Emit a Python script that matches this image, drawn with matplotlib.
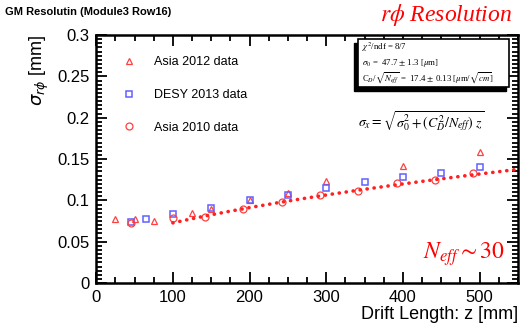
import numpy as np
import matplotlib
matplotlib.use('Agg')
import matplotlib.pyplot as plt
from matplotlib.ticker import MultipleLocator
from matplotlib.patches import Rectangle

# data (z in mm, sigma in mm)
asia2012_z = [25, 50, 75, 125, 150, 200, 250, 300, 400, 500]
asia2012_s = [0.077, 0.077, 0.075, 0.085, 0.090, 0.100, 0.109, 0.123, 0.1415, 0.159]

desy2013_z = [45, 65, 100, 150, 200, 250, 300, 350, 400, 450, 500]
desy2013_s = [0.074, 0.077, 0.084, 0.091, 0.100, 0.107, 0.115, 0.1225, 0.128, 0.133, 0.140]

asia2010_z = [45, 100, 142, 192, 242, 292, 342, 392, 442, 492]
asia2010_s = [0.073, 0.079, 0.080, 0.090, 0.098, 0.106, 0.111, 0.121, 0.125, 0.133]

# fit parameters shown in the stat box
sigma0_um = 47.7
cd_um = 17.4   # C_D/sqrt(N_eff) in um/sqrt(cm)
fit_range = [100, 550]

red = '#ff4040'
blue = '#6060ff'

plt.rcParams['font.family'] = ['Liberation Sans', 'DejaVu Sans']

fig = plt.figure(figsize=(5.2, 3.28), dpi=100)
ax = fig.add_axes([0.185, 0.137, 0.811, 0.756])

ax.plot(asia2012_z, asia2012_s, linestyle='none', marker='^', ms=5,
        mfc='none', mec=red, mew=0.9, label='Asia 2012 data')
ax.plot(desy2013_z, desy2013_s, linestyle='none', marker='s', ms=5,
        mfc='none', mec=blue, mew=1.1, label='DESY 2013 data')
ax.plot(asia2010_z, asia2010_s, linestyle='none', marker='o', ms=5,
        mfc='none', mec=red, mew=0.9, label='Asia 2010 data')

# fit curve sigma = sqrt(s0^2 + (Cd^2/Neff) z)
zf = np.linspace(fit_range[0], fit_range[1], 200)
sf = np.sqrt((sigma0_um / 1000) ** 2 + (cd_um / 1000) ** 2 * zf / 10)
ax.plot(zf, sf, color='#ff2020', linestyle=(0, (0.05, 1.9)), lw=2.6,
        dash_capstyle='round')

ax.set_xlim(0, 550)
ax.set_ylim(0, 0.3)
ax.xaxis.set_major_locator(MultipleLocator(100))
ax.xaxis.set_minor_locator(MultipleLocator(25))
ax.yaxis.set_major_locator(MultipleLocator(0.05))
ax.yaxis.set_minor_locator(MultipleLocator(0.005))
ax.set_yticks([0, 0.05, 0.1, 0.15, 0.2, 0.25, 0.3])
ax.set_yticklabels(['0', '0.05', '0.1', '0.15', '0.2', '0.25', '0.3'])
ax.tick_params(which='both', direction='in', top=True, right=True,
               labelsize=12, width=1.3)
ax.tick_params(which='major', length=8, pad=5)
ax.tick_params(which='minor', length=4)
for sp in ax.spines.values():
    sp.set_linewidth(1.8)

ax.set_xlabel('Drift Length: z [mm]', fontsize=13, loc='right', labelpad=1)
ax.set_ylabel(r'$\sigma_{r\phi}$ [mm]', fontsize=13, loc='top', labelpad=4)

leg = ax.legend(loc='upper left', bbox_to_anchor=(0.03, 0.96), frameon=False,
                fontsize=9, handletextpad=1.2, labelspacing=1.65,
                handlelength=1.5)

fig.text(0.01, 0.955, 'GM Resolutin (Module3 Row16)', fontsize=8,
         fontweight='bold')
fig.text(0.985, 0.935, r'$r\phi$ Resolution', color='red', fontsize=17,
         family='Liberation Serif', style='italic', math_fontfamily='stix',
         ha='right')
ax.text(0.97, 0.1, r'$\mathit{N_{eff} \sim 30}$', transform=ax.transAxes,
        color='red', fontsize=17, math_fontfamily='stix', ha='right')

# formula
ax.text(0.62, 0.63, r'$\sigma_x = \sqrt{\sigma_0^2 + (C_D^2/N_{eff})\ z}$',
        transform=ax.transAxes, fontsize=10, math_fontfamily='stix')

# stat box with shadow
bx0, by0, bw, bh = 0.62, 0.79, 0.36, 0.195
ax.add_patch(Rectangle((bx0 - 0.008, by0 - 0.015), bw, bh, transform=ax.transAxes,
                       facecolor='black', edgecolor='black', zorder=4))
ax.add_patch(Rectangle((bx0, by0), bw, bh, transform=ax.transAxes,
                       facecolor='white', edgecolor='black', lw=1.2, zorder=5))
lines = [r'$\chi^2$/ndf = 8/7',
         r'$\sigma_0$ =  47.7 $\pm$ 1.3 [$\mu$m]',
         r'C$_D$/$\sqrt{N_{eff}}$ =  17.4 $\pm$ 0.13 [$\mu$m/$\sqrt{cm}$]']
for i, t in enumerate(lines):
    ax.text(bx0 + 0.01, by0 + bh - 0.035 - i * 0.062, t, transform=ax.transAxes,
            fontsize=6.3, family='Liberation Serif', math_fontfamily='stix',
            va='center', zorder=6, clip_on=True)

fig.savefig('out.png', dpi=100)
